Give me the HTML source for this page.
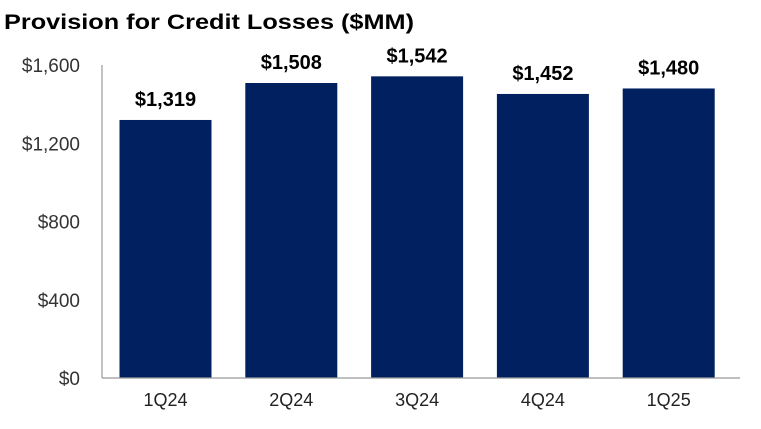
<!DOCTYPE html>
<html><head><meta charset="utf-8"><style>
body{margin:0;background:#fff;width:761px;height:424px;overflow:hidden;font-family:"Liberation Sans",sans-serif}
</style></head><body>
<svg width="761" height="424">
<text x="4" y="29" font-size="21" font-weight="bold" fill="#000" textLength="410" lengthAdjust="spacingAndGlyphs">Provision for Credit Losses ($MM)</text>
<g id="plot"></g>
</svg>
<script>
const categories=["1Q24","2Q24","3Q24","4Q24","1Q25"];
const values=[1319,1508,1542,1452,1480];
const valueLabels=["$1,319","$1,508","$1,542","$1,452","$1,480"];
const yTicks=[0,400,800,1200,1600];
const yTickLabels=["$0","$400","$800","$1,200","$1,600"];
const ns="http://www.w3.org/2000/svg";
const g=document.getElementById("plot");
const x0=102,x1=740,y0=378,yTop=65,yMax=1600;
const y=v=>y0-(v/yMax)*(y0-yTop);
const band=125.8, firstCenter=165.5;
const bw=92;
function mk(t,a){const e=document.createElementNS(ns,t);for(const k in a)e.setAttribute(k,a[k]);g.appendChild(e);return e;}
yTicks.forEach((t,i)=>{
 const e=mk("text",{x:80,y:y(t)+7,"text-anchor":"end","font-size":"19",fill:"#333"});
 e.textContent=yTickLabels[i];
 
 
});
categories.forEach((c,i)=>{
 const cx=firstCenter+band*i;
 const r=mk("rect",{x:cx-bw/2,y:y(values[i]),width:bw,height:y0-y(values[i]),fill:"#002060"});
 
 
 const vl=mk("text",{x:cx,y:y(values[i])-14,"text-anchor":"middle","font-size":"20","font-weight":"bold",fill:"#000"});
 vl.textContent=valueLabels[i];
 
 
 const xl=mk("text",{x:cx,y:406,"text-anchor":"middle","font-size":"18",fill:"#222"});
 xl.textContent=c;
 
 
});
const ax=mk("line",{x1:x0,y1:yTop,x2:x0,y2:y0,stroke:"#999","stroke-width":1.2});


const bx=mk("line",{x1:x0,y1:y0,x2:x1,y2:y0,stroke:"#999","stroke-width":1.2});


</script>
</body></html>
